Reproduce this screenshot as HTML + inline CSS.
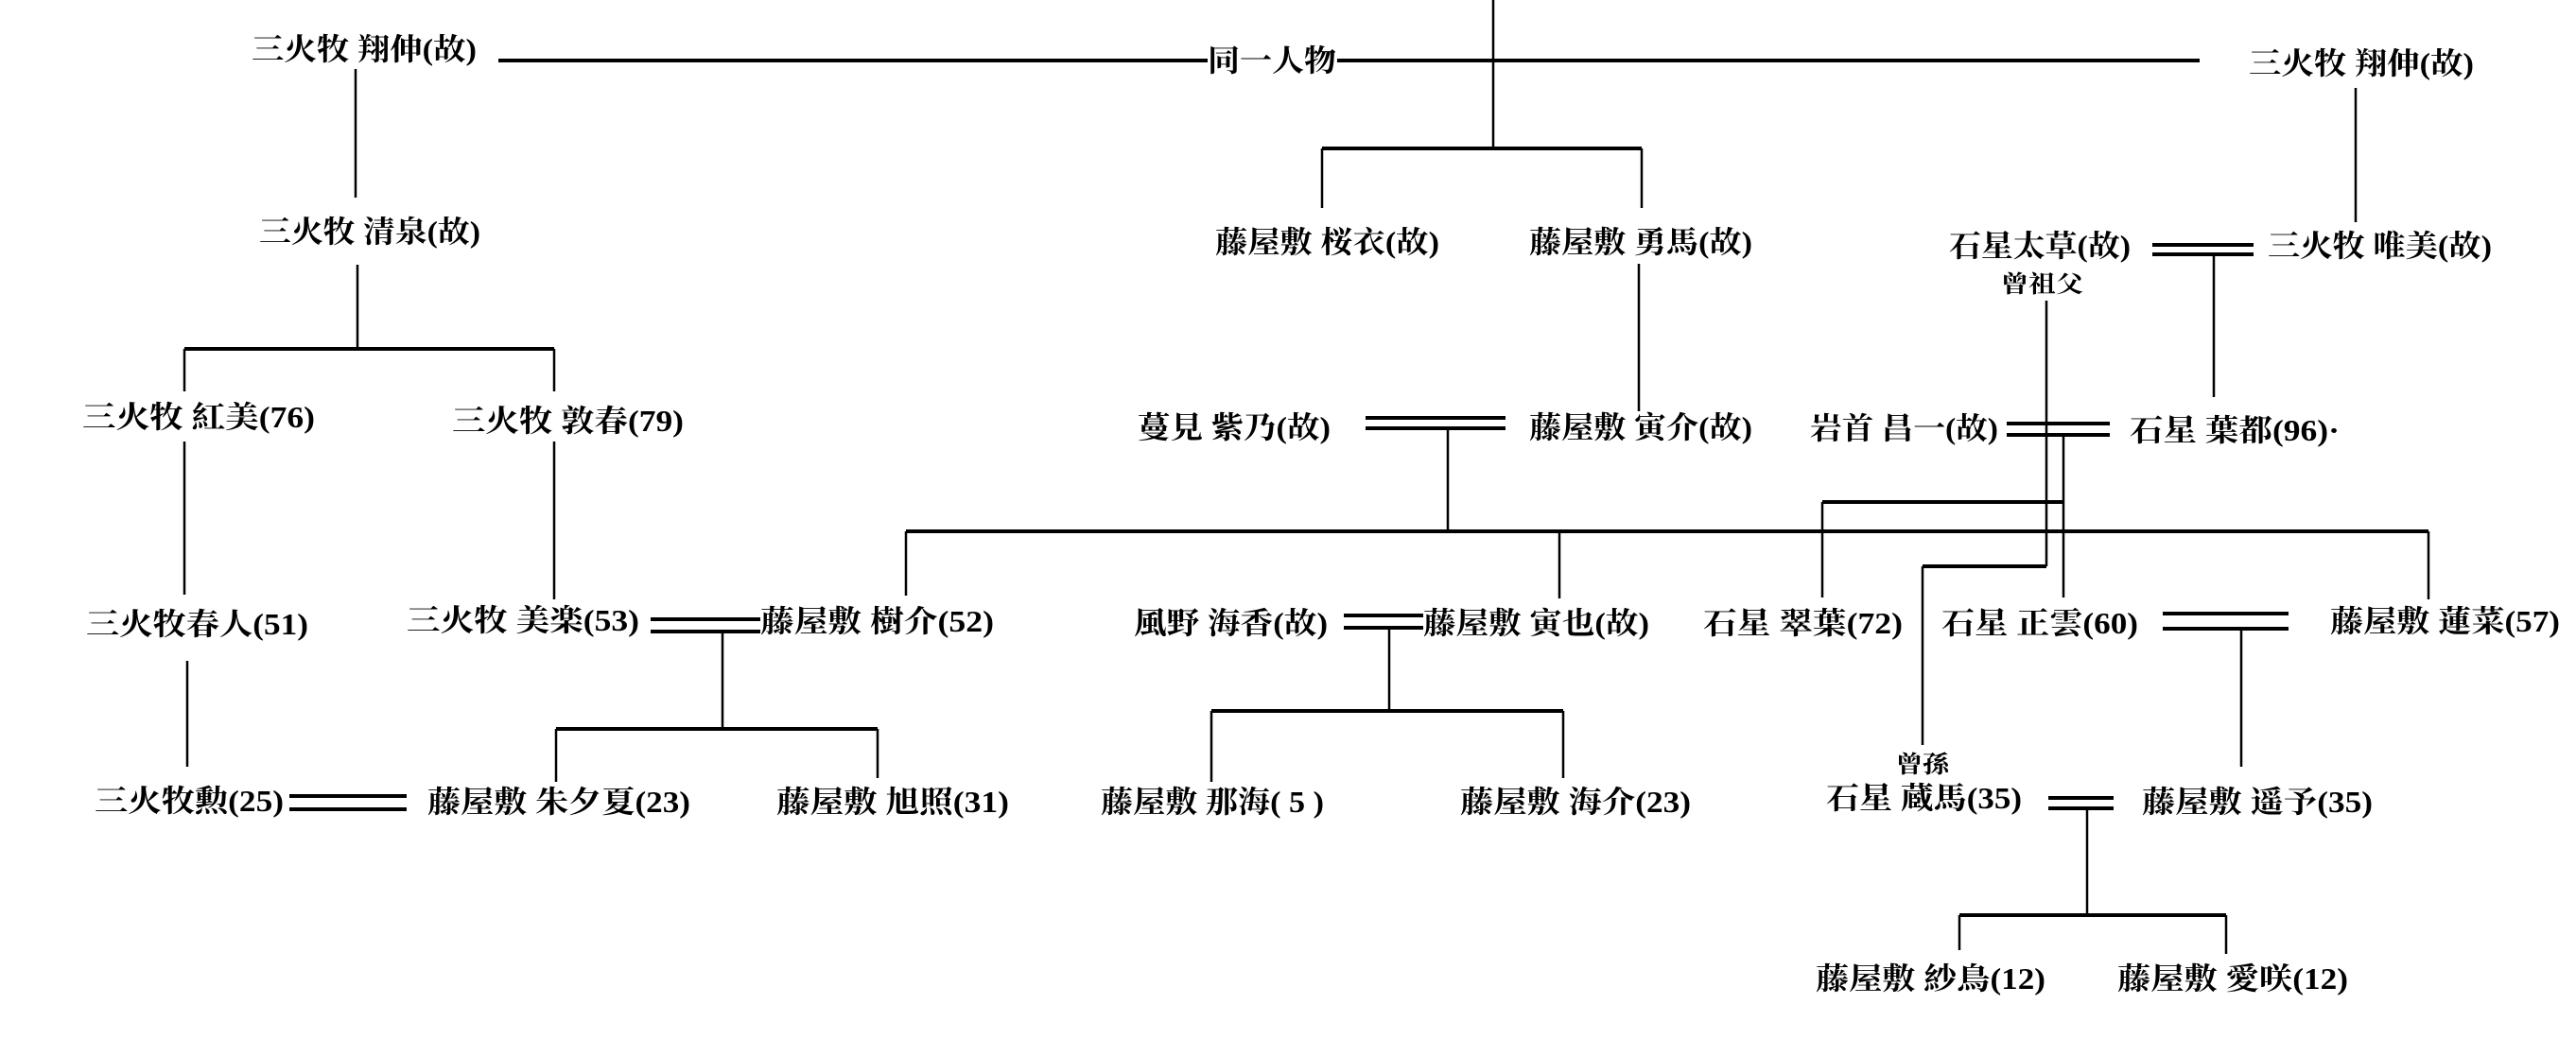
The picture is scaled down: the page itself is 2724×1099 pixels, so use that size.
<!DOCTYPE html>
<html><head><meta charset="utf-8"><style>
html,body{margin:0;padding:0;background:#fff;}
svg{display:block;}
text{font-family:"Liberation Serif","Noto Serif CJK SC","Noto Serif CJK JP",serif;font-weight:bold;fill:#000;}
</style></head><body>
<svg width="2724" height="1099" viewBox="0 0 2724 1099" xmlns="http://www.w3.org/2000/svg">
<g stroke="#000" fill="none" stroke-linecap="butt">
<!-- thick horizontals -->
<g stroke-width="4">
<line x1="527" y1="64" x2="1277" y2="64"/>
<line x1="1414" y1="64" x2="2326" y2="64"/>
<line x1="1398" y1="157" x2="1736" y2="157"/>
<line x1="195" y1="369" x2="586" y2="369"/>
<line x1="958" y1="562" x2="2568" y2="562"/>
<line x1="588" y1="771" x2="928" y2="771"/>
<line x1="1281" y1="752" x2="1653" y2="752"/>
<line x1="2072" y1="968" x2="2354" y2="968"/>
<line x1="1927" y1="531" x2="2183" y2="531"/>
<line x1="2033" y1="599" x2="2164" y2="599"/>
<!-- double lines -->
<line x1="1444" y1="442" x2="1592" y2="442"/><line x1="1444" y1="453" x2="1592" y2="453"/>
<line x1="2276" y1="259" x2="2383" y2="259"/><line x1="2276" y1="269" x2="2383" y2="269"/>
<line x1="2122" y1="448" x2="2231" y2="448"/><line x1="2122" y1="460" x2="2231" y2="460"/>
<line x1="688" y1="655" x2="804" y2="655"/><line x1="688" y1="668" x2="804" y2="668"/>
<line x1="306" y1="842" x2="430" y2="842"/><line x1="306" y1="856" x2="430" y2="856"/>
<line x1="1421" y1="651" x2="1505" y2="651"/><line x1="1421" y1="664" x2="1505" y2="664"/>
<line x1="2287" y1="649" x2="2420" y2="649"/><line x1="2287" y1="665" x2="2420" y2="665"/>
<line x1="2166" y1="844" x2="2235" y2="844"/><line x1="2166" y1="855" x2="2235" y2="855"/>
</g>
<g stroke-width="2.5">
<line x1="1579" y1="0" x2="1579" y2="157"/>
<line x1="376" y1="73" x2="376" y2="209"/>
<line x1="378" y1="280" x2="378" y2="369"/>
<line x1="195" y1="369" x2="195" y2="414"/>
<line x1="586" y1="369" x2="586" y2="414"/>
<line x1="195" y1="467" x2="195" y2="629"/>
<line x1="586" y1="467" x2="586" y2="634"/>
<line x1="198" y1="699" x2="198" y2="811"/>
<line x1="764" y1="668" x2="764" y2="771"/>
<line x1="588" y1="771" x2="588" y2="827"/>
<line x1="928" y1="771" x2="928" y2="823"/>
<line x1="958" y1="562" x2="958" y2="630"/>
<line x1="1398" y1="157" x2="1398" y2="220"/>
<line x1="1736" y1="157" x2="1736" y2="220"/>
<line x1="1733" y1="279" x2="1733" y2="435"/>
<line x1="1531" y1="453" x2="1531" y2="562"/>
<line x1="2568" y1="562" x2="2568" y2="634"/>
<line x1="1649" y1="562" x2="1649" y2="633"/>
<line x1="1927" y1="531" x2="1927" y2="632"/>
<line x1="2491" y1="93" x2="2491" y2="235"/>
<line x1="2341" y1="269" x2="2341" y2="420"/>
<line x1="2164" y1="318" x2="2164" y2="599"/>
<line x1="2033" y1="599" x2="2033" y2="788"/>
<line x1="2182" y1="460" x2="2182" y2="632"/>
<line x1="1469" y1="664" x2="1469" y2="752"/>
<line x1="1281" y1="752" x2="1281" y2="827"/>
<line x1="1653" y1="752" x2="1653" y2="823"/>
<line x1="2370" y1="665" x2="2370" y2="811"/>
<line x1="2207" y1="855" x2="2207" y2="968"/>
<line x1="2072" y1="968" x2="2072" y2="1005"/>
<line x1="2354" y1="968" x2="2354" y2="1009"/>
</g>
</g>
<g font-size="32">
<text x="266" y="63" textLength="238" lengthAdjust="spacingAndGlyphs">三火牧 翔伸(故)</text>
<text x="1277" y="75" textLength="136" lengthAdjust="spacingAndGlyphs">同一人物</text>
<text x="2378" y="78" textLength="238" lengthAdjust="spacingAndGlyphs">三火牧 翔伸(故)</text>
<text x="274" y="256" textLength="234" lengthAdjust="spacingAndGlyphs">三火牧 清泉(故)</text>
<text x="1285" y="267" textLength="237" lengthAdjust="spacingAndGlyphs">藤屋敷 桜衣(故)</text>
<text x="1617" y="267" textLength="236" lengthAdjust="spacingAndGlyphs">藤屋敷 勇馬(故)</text>
<text x="2061" y="271" textLength="192" lengthAdjust="spacingAndGlyphs">石星太草(故)</text>
<text x="2398" y="271" textLength="237" lengthAdjust="spacingAndGlyphs">三火牧 唯美(故)</text>
<text x="87" y="452" textLength="246" lengthAdjust="spacingAndGlyphs">三火牧 紅美(76)</text>
<text x="478" y="456" textLength="245" lengthAdjust="spacingAndGlyphs">三火牧 敦春(79)</text>
<text x="1203" y="463" textLength="204" lengthAdjust="spacingAndGlyphs">蔓見 紫乃(故)</text>
<text x="1617" y="463" textLength="236" lengthAdjust="spacingAndGlyphs">藤屋敷 寅介(故)</text>
<text x="1914" y="464" textLength="199" lengthAdjust="spacingAndGlyphs">岩首 昌一(故)</text>
<text x="2252" y="466" textLength="222" lengthAdjust="spacingAndGlyphs">石星 葉都(96)·</text>
<text x="91" y="671" textLength="235" lengthAdjust="spacingAndGlyphs">三火牧春人(51)</text>
<text x="430" y="667" textLength="246" lengthAdjust="spacingAndGlyphs">三火牧 美楽(53)</text>
<text x="804" y="668" textLength="247" lengthAdjust="spacingAndGlyphs">藤屋敷 樹介(52)</text>
<text x="1199" y="670" textLength="205" lengthAdjust="spacingAndGlyphs">風野 海香(故)</text>
<text x="1505" y="670" textLength="239" lengthAdjust="spacingAndGlyphs">藤屋敷 寅也(故)</text>
<text x="1801" y="670" textLength="211" lengthAdjust="spacingAndGlyphs">石星 翠葉(72)</text>
<text x="2053" y="670" textLength="208" lengthAdjust="spacingAndGlyphs">石星 正雲(60)</text>
<text x="2464" y="668" textLength="243" lengthAdjust="spacingAndGlyphs">藤屋敷 蓮菜(57)</text>
<text x="100" y="858" textLength="200" lengthAdjust="spacingAndGlyphs">三火牧勲(25)</text>
<text x="452" y="859" textLength="278" lengthAdjust="spacingAndGlyphs">藤屋敷 朱夕夏(23)</text>
<text x="821" y="859" textLength="246" lengthAdjust="spacingAndGlyphs">藤屋敷 旭照(31)</text>
<text x="1164" y="859" textLength="236" lengthAdjust="spacingAndGlyphs">藤屋敷 那海( 5 )</text>
<text x="1544" y="859" textLength="244" lengthAdjust="spacingAndGlyphs">藤屋敷 海介(23)</text>
<text x="1931" y="855" textLength="207" lengthAdjust="spacingAndGlyphs">石星 蔵馬(35)</text>
<text x="2265" y="859" textLength="244" lengthAdjust="spacingAndGlyphs">藤屋敷 遥予(35)</text>
<text x="1920" y="1046" textLength="243" lengthAdjust="spacingAndGlyphs">藤屋敷 紗鳥(12)</text>
<text x="2239" y="1046" textLength="244" lengthAdjust="spacingAndGlyphs">藤屋敷 愛咲(12)</text>
</g>
<g font-size="25">
<text x="2116" y="309" textLength="87" lengthAdjust="spacingAndGlyphs">曾祖父</text>
<text x="2005" y="817" textLength="56" lengthAdjust="spacingAndGlyphs">曾孫</text>
</g>
</svg>
</body></html>
